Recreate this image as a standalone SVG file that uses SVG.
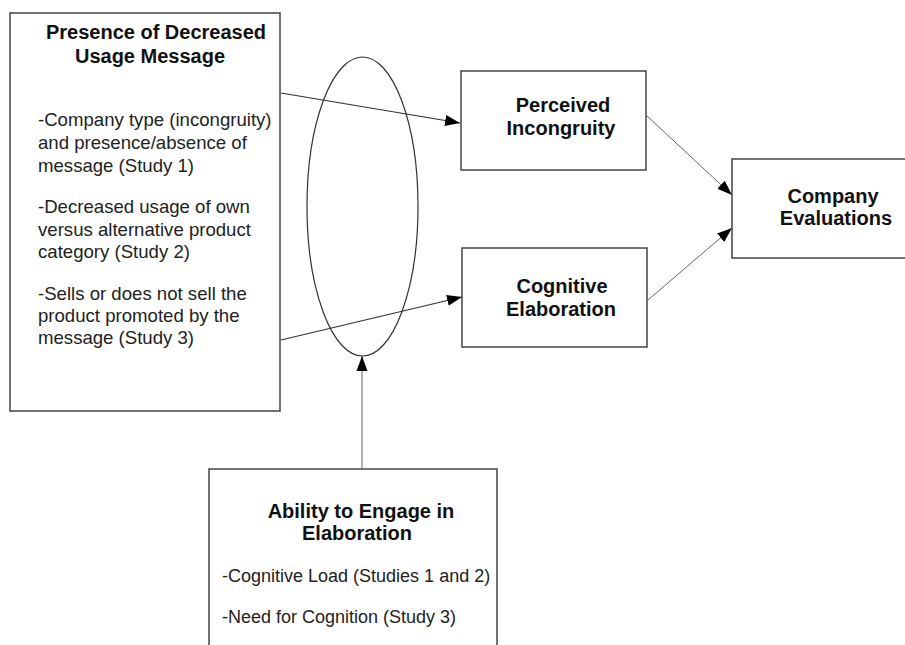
<svg xmlns="http://www.w3.org/2000/svg" width="905" height="645" viewBox="0 0 905 645">
<defs>
<marker id="ah" markerUnits="userSpaceOnUse" markerWidth="16" markerHeight="12" refX="15" refY="6" orient="auto">
<path d="M0,0.5 L15,6 L0,11.5 z" fill="#000"/>
</marker>
<style>
.box{fill:#fff;stroke:#444;stroke-width:1.5}
.t{font-family:"Liberation Sans",Arial,sans-serif;font-weight:bold;font-size:20px;fill:#111;text-anchor:middle}
.b{font-family:"Liberation Sans",Arial,sans-serif;font-size:18px;fill:#222}
.bl{font-size:18.6px}
.c{fill:none;stroke:#333;stroke-width:1.2}
.g{fill:none;stroke:#666;stroke-width:1}
</style>
</defs>
<rect width="905" height="645" fill="#fff"/>
<g id="presence">
<rect class="box" x="10" y="13" width="270" height="398"/>
<text class="t" x="156" y="39">Presence of Decreased</text>
<text class="t" x="150" y="63">Usage Message</text>
<text class="b bl" x="38" y="126">-Company type (incongruity)</text>
<text class="b bl" x="38" y="149">and presence/absence of</text>
<text class="b bl" x="38" y="172">message (Study 1)</text>
<text class="b bl" x="38" y="213">-Decreased usage of own</text>
<text class="b bl" x="38" y="236">versus alternative product</text>
<text class="b bl" x="38" y="258">category (Study 2)</text>
<text class="b bl" x="38" y="300">-Sells or does not sell the</text>
<text class="b bl" x="38" y="322">product promoted by the</text>
<text class="b bl" x="38" y="344">message (Study 3)</text>
</g>
<g id="moderator">
<ellipse cx="362.5" cy="206.5" rx="55.5" ry="149.5" fill="none" stroke="#333" stroke-width="1.2"/>
</g>
<g id="incongruity">
<rect class="box" x="461" y="71" width="185" height="99"/>
<text class="t" x="563" y="112">Perceived</text>
<text class="t" x="561" y="135">Incongruity</text>
</g>
<g id="elaboration">
<rect class="box" x="462" y="248" width="185" height="99"/>
<text class="t" x="562" y="293">Cognitive</text>
<text class="t" x="561" y="316">Elaboration</text>
</g>
<g id="evaluations">
<rect class="box" x="732" y="159" width="180" height="99"/>
<text class="t" x="833" y="203">Company</text>
<text class="t" x="836" y="225">Evaluations</text>
</g>
<g id="ability">
<rect class="box" x="209" y="469" width="288" height="190"/>
<text class="t" x="361" y="518">Ability to Engage in</text>
<text class="t" x="357" y="540">Elaboration</text>
<text class="b" x="222" y="582">-Cognitive Load (Studies 1 and 2)</text>
<text class="b" x="222" y="623">-Need for Cognition (Study 3)</text>
</g>
<g id="connectors">
<line class="c" x1="281" y1="93" x2="460" y2="123" marker-end="url(#ah)"/>
<line class="c" x1="281" y1="340" x2="462" y2="297" marker-end="url(#ah)"/>
<line class="g" x1="647" y1="116" x2="732" y2="195" marker-end="url(#ah)"/>
<line class="g" x1="648" y1="300" x2="732" y2="228" marker-end="url(#ah)"/>
<line class="g" x1="362" y1="469" x2="362" y2="356" marker-end="url(#ah)"/>
</g>
</svg>
